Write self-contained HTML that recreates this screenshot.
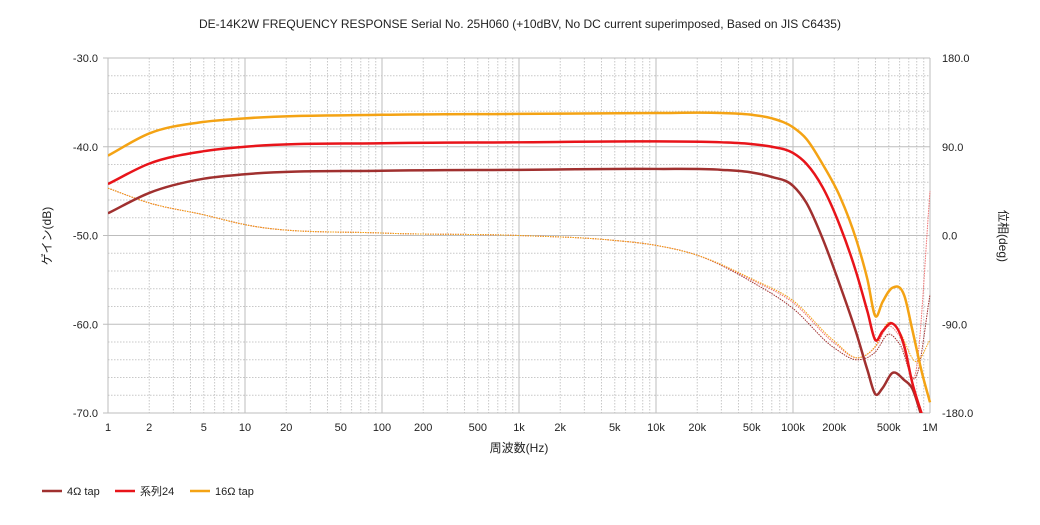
<!DOCTYPE html>
<html><head><meta charset="utf-8"><style>
body{margin:0;background:#fff;}
svg text{font-family:"Liberation Sans","Noto Sans CJK JP",sans-serif;fill:#222;}
</style></head><body>
<svg id="c" width="1040" height="520" xmlns="http://www.w3.org/2000/svg">
<text x="520" y="28" font-size="12" text-anchor="middle">DE-14K2W FREQUENCY RESPONSE Serial No. 25H060 (+10dBV,  No DC current superimposed,  Based on JIS C6435)</text>
<g id="grid"></g><g id="axes"></g><g id="series"></g>
<text transform="translate(51,236) rotate(-90)" font-size="12" text-anchor="middle">ゲイン(dB)</text>
<text transform="translate(999,236) rotate(90)" font-size="12" text-anchor="middle">位相(deg)</text>
<text x="519" y="452" font-size="12" text-anchor="middle">周波数(Hz)</text>
<g>
<g><line x1="42" y1="491" x2="62" y2="491" stroke="#a0302f" stroke-width="2.5"/><text x="67" y="495" font-size="11">4Ω tap</text></g>
<g><line x1="115" y1="491" x2="135" y2="491" stroke="#e8141a" stroke-width="2.5"/><text x="140" y="495" font-size="11">系列24</text></g>
<g><line x1="190" y1="491" x2="210" y2="491" stroke="#f4a314" stroke-width="2.5"/><text x="215" y="495" font-size="11">16Ω tap</text></g>
</g>
</svg>
<script>
const freqs=[1,2,5,10,100,1000,10000,30000,50000,70000,100000,125000,165000,220000,290000,350000,400000,450000,530000,650000,740000,875000,1000000];
const gain4=[-47.5,-45.2,-43.6,-43.1,-42.7,-42.6,-42.5,-42.6,-42.9,-43.4,-44.4,-46.3,-50.4,-55.6,-61,-65.2,-67.9,-67.2,-65.5,-66.3,-67.2,-70.5,-73];
const gain24=[-44.2,-41.9,-40.5,-40,-39.6,-39.5,-39.4,-39.5,-39.7,-40,-40.7,-41.9,-44.6,-48.9,-54.2,-58.6,-61.8,-60.8,-59.9,-62.5,-66.5,-70.2,-73];
const gain16=[-41,-38.5,-37.2,-36.8,-36.4,-36.3,-36.2,-36.2,-36.4,-36.8,-37.8,-39.1,-42,-45.6,-50.5,-55,-59.1,-57.5,-55.9,-56.8,-60.5,-65.5,-68.8];
const pfreqs=[1,2,5,10,100,1000,5000,10000,20000,50000,100000,200000,300000,400000,500000,600000,800000,1000000];
const phase4=[48,33,21,11,2.5,0,-5,-10,-20,-47,-74,-114,-126,-118,-100,-110,-142,-60];
const phase24=[48,33,21,11,2.5,0,-5,-10,-20,-45,-68,-109,-124,-113,-92,-102,-133,45];
const phase16=[48,33,21,11,2.5,0,-5,-10,-20,-44,-66,-107,-124,-112,-88,-98,-128,-106];
const xTicks=[1,2,5,10,20,50,100,200,500,1000,2000,5000,10000,20000,50000,100000,200000,500000,1000000];
const xTickLabels=["1","2","5","10","20","50","100","200","500","1k","2k","5k","10k","20k","50k","100k","200k","500k","1M"];
const yTicks=[-30,-40,-50,-60,-70];
const y2Ticks=[180,90,0,-90,-180];

const L=108,R=930,T=58,B=413,NS="http://www.w3.org/2000/svg";
const X=f=>L+(R-L)*Math.log10(f)/6;
const Y=d=>T+(B-T)*(-30-d)/40;
const Y2=p=>T+(B-T)*(180-p)/360;
function mk(tag,at,parent){const e=document.createElementNS(NS,tag);for(const k in at)e.setAttribute(k,at[k]);parent.appendChild(e);return e;}
const grid=document.getElementById('grid'),axes=document.getElementById('axes'),ser=document.getElementById('series');
for(let d=0;d<6;d++)for(let m=2;m<=9;m++){const x=X(m*Math.pow(10,d));const l=mk('line',{x1:x,x2:x,y1:T,y2:B,stroke:'#c8c8c8','stroke-dasharray':'1.5,1.5'},grid);

}
for(let v=-32;v>-70;v-=2){if(v%10===0)continue;const y=Y(v);const l=mk('line',{x1:L,x2:R,y1:y,y2:y,stroke:'#c8c8c8','stroke-dasharray':'1.5,1.5'},grid);

}
for(let d=0;d<=6;d++){const x=X(Math.pow(10,d));const l=mk('line',{x1:x,x2:x,y1:T,y2:B,stroke:'#bdbdbd'},grid);

}
yTicks.forEach((v,i)=>{const y=Y(v);const l=mk('line',{x1:L-5,x2:R,y1:y,y2:y,stroke:'#bdbdbd'},grid);


const t=mk('text',{x:L-10,y:y+4,'font-size':11,'text-anchor':'end'},axes);t.textContent=v.toFixed(1);


const t2=mk('text',{x:R+12,y:Y2(y2Ticks[i])+4,'font-size':11},axes);t2.textContent=y2Ticks[i].toFixed(1);

});
xTicks.forEach((f,i)=>{const t=mk('text',{x:X(f),y:431,'font-size':11,'text-anchor':'middle'},axes);t.textContent=xTickLabels[i];

});
function path(fs,vs,yf){const p=fs.map((f,i)=>[X(f),yf(vs[i])]);const n=p.length;const m=[];
for(let i=0;i<n;i++){const s0=i>0?(p[i][1]-p[i-1][1])/(p[i][0]-p[i-1][0]):null;const s1=i<n-1?(p[i+1][1]-p[i][1])/(p[i+1][0]-p[i][0]):null;
m.push(s0===null?s1:s1===null?s0:(s0*(p[i+1][0]-p[i][0])+s1*(p[i][0]-p[i-1][0]))/(p[i+1][0]-p[i-1][0]));}
let d='M'+p[0][0]+','+p[0][1];
for(let i=0;i<n-1;i++){const dx=(p[i+1][0]-p[i][0])/3;
d+=` C${p[i][0]+dx},${p[i][1]+m[i]*dx} ${p[i+1][0]-dx},${p[i+1][1]-m[i+1]*dx} ${p[i+1][0]},${p[i+1][1]}`;}return d;}
const defs=mk('defs',{},ser);const cpE=mk('clipPath',{id:'cp'},defs);mk('rect',{x:L,y:T,width:R-L+2,height:B-T},cpE);
[[phase4,'#a0302f','phase-4ohm'],[phase24,'#f07070','phase-series24'],[phase16,'#f4a314','phase-16ohm']].forEach(s=>{
const e=mk('path',{d:path(pfreqs,s[0],Y2),fill:'none',stroke:s[1],'stroke-width':1,'stroke-dasharray':'1.5,1','clip-path':'url(#cp)'},ser);

});
[[gain4,'#a0302f','gain-4ohm'],[gain24,'#e8141a','gain-series24'],[gain16,'#f4a314','gain-16ohm']].forEach(s=>{
const e=mk('path',{d:path(freqs,s[0],Y),fill:'none',stroke:s[1],'stroke-width':2.5,'clip-path':'url(#cp)'},ser);

});
</script>
</body></html>
